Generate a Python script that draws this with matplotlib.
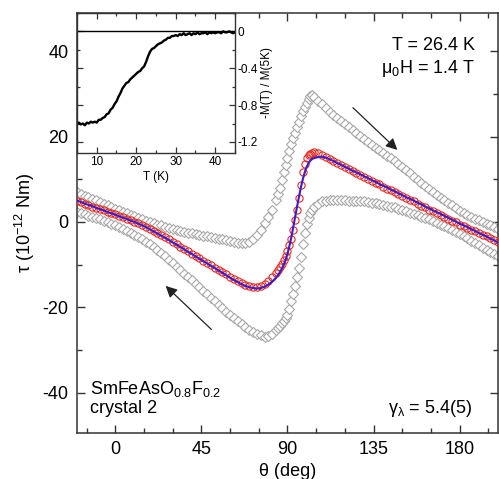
import numpy as np
import matplotlib
matplotlib.use("Agg")
import matplotlib.pyplot as plt
from matplotlib.ticker import MultipleLocator

plt.rcParams['font.family'] = ['Liberation Sans', 'DejaVu Sans']
plt.rcParams['mathtext.fontset'] = 'custom'
plt.rcParams['mathtext.rm'] = 'Liberation Sans'
plt.rcParams['mathtext.it'] = 'Liberation Sans'
plt.rcParams['mathtext.default'] = 'regular'
plt.rcParams['axes.unicode_minus'] = False

# angle grid: 2 deg steps, 1 deg steps across the switching region
theta = np.r_[np.arange(-20, 85, 2), np.arange(85, 104, 1), np.arange(104, 201, 2)]

# torque, branch coming from +30 peak (gray diamonds)
tau_up = [7.0, 6.6, 6.2, 5.8, 5.4, 5.1, 4.7, 4.3, 3.9, 3.5,
          3.1, 2.8, 2.4, 2.0, 1.7, 1.3, 1.0, 0.6, 0.3, 0.0,
          -0.3, -0.6, -0.8, -1.1, -1.4, -1.7, -1.9, -2.1, -2.3, -2.5,
          -2.7, -2.9, -3.0, -3.2, -3.3, -3.5, -3.7, -3.9, -4.1, -4.3,
          -4.5, -4.7, -4.9, -5.0, -5.0, -4.6, -4.0, -3.1, -1.8, -0.3,
          1.1, 2.9, 5.2,
          6.5, 8.0, 9.8, 11.6, 13.4, 15.0, 16.6, 18.2, 19.6, 20.9,
          22.2, 23.5, 24.8, 26.0, 27.0, 27.9, 28.8, 29.6, 29.7,
          29.2, 28.4, 27.6, 26.7, 25.9, 25.1, 24.4, 23.7, 23.0, 22.3,
          21.6, 20.9, 20.2, 19.4, 18.7, 18.0, 17.4, 16.8, 16.2, 15.5,
          14.9, 14.3, 13.6, 12.9, 12.2, 11.4, 10.6, 9.9, 9.1, 8.4,
          7.7, 7.0, 6.3, 5.7, 5.1, 4.5, 3.9, 3.3, 2.6, 2.0,
          1.6, 1.2, 0.8, 0.4, 0.0, -0.4, -0.8, -1.2, -1.6]

# torque, branch with the -27 dip (gray diamonds)
tau_down = [2.4, 2.1, 1.8, 1.5, 1.2, 0.9, 0.6, 0.3, 0.0, -0.4,
            -0.8, -1.2, -1.7, -2.1, -2.6, -3.1, -3.6, -4.0, -4.6, -5.2,
            -5.9, -6.6, -7.3, -8.1, -8.9, -9.7, -10.5, -11.3, -12.1, -12.9,
            -13.7, -14.5, -15.3, -16.1, -16.9, -17.8, -18.6, -19.4, -20.2, -21.1,
            -21.9, -22.6, -23.3, -24.0, -24.7, -25.3, -25.8, -26.3, -26.6, -26.9,
            -26.8, -26.2, -25.3,
            -24.8, -24.3, -23.8, -23.2, -22.6, -21.8, -20.4, -18.6, -16.9, -15.0,
            -13.0, -10.8, -8.2, -5.2, -2.6, -0.5, 1.0, 2.0, 2.8,
            3.5, 4.3, 4.8, 5.0, 5.2, 5.2, 5.2, 5.1, 5.1, 5.0,
            5.0, 4.9, 4.9, 4.8, 4.7, 4.5, 4.4, 4.2, 4.0, 3.8,
            3.6, 3.4, 3.1, 2.8, 2.5, 2.2, 1.9, 1.6, 1.2, 0.9,
            0.6, 0.2, -0.2, -0.6, -1.0, -1.4, -1.9, -2.3, -2.8, -3.3,
            -3.8, -4.4, -4.9, -5.5, -6.0, -6.6, -7.1, -7.6, -8.1]

# reversible torque (red circles)
tau_rev = [5.0, 4.6, 4.3, 4.0, 3.6, 3.3, 3.0, 2.7, 2.4, 2.1,
           1.8, 1.4, 1.1, 0.8, 0.4, 0.1, -0.3, -0.6, -1.1, -1.6,
           -2.1, -2.6, -3.1, -3.6, -4.1, -4.7, -5.2, -5.8, -6.3, -6.9,
           -7.4, -8.0, -8.5, -9.1, -9.6, -10.2, -10.7, -11.3, -11.8, -12.3,
           -12.8, -13.3, -13.8, -14.3, -14.7, -15.0, -15.2, -15.3, -15.1, -14.6,
           -13.9, -13.0, -11.9,
           -11.3, -10.6, -9.9, -9.0, -8.0, -6.9, -5.5, -3.9, -1.9, 0.4,
           2.9, 5.6, 8.6, 11.6, 13.6, 14.9, 15.6, 16.0, 16.2,
           16.3, 16.1, 15.7, 15.3, 14.8, 14.3, 13.8, 13.4, 12.9, 12.5,
           12.0, 11.5, 11.1, 10.6, 10.1, 9.7, 9.2, 8.8, 8.3, 7.8,
           7.4, 7.0, 6.6, 6.1, 5.7, 5.2, 4.8, 4.3, 3.8, 3.4,
           2.9, 2.5, 2.1, 1.6, 1.2, 0.8, 0.3, -0.1, -0.6, -1.0,
           -1.4, -1.8, -2.2, -2.6, -3.0, -3.4, -3.8, -4.2, -4.6]

# fit curve (blue line)
tau_fit = [5.0, 4.7, 4.3, 4.0, 3.7, 3.3, 3.0, 2.7, 2.3, 2.0,
           1.7, 1.3, 1.0, 0.7, 0.3, 0.0, -0.4, -0.8, -1.2, -1.7,
           -2.2, -2.7, -3.2, -3.7, -4.2, -4.8, -5.3, -5.9, -6.4, -7.0,
           -7.5, -8.1, -8.6, -9.2, -9.7, -10.3, -10.8, -11.4, -11.9, -12.5,
           -13.1, -13.6, -14.1, -14.6, -15.0, -15.3, -15.5, -15.6, -15.5, -15.2,
           -14.7, -14.0, -13.1,
           -12.5, -11.8, -11.0, -10.1, -8.9, -7.5, -5.6, -3.6, -1.2, 1.2,
           3.6, 5.9, 8.1, 10.0, 11.6, 12.9, 13.8, 14.4, 14.8,
           15.0, 15.2, 15.3, 15.1, 14.7, 14.3, 13.8, 13.4, 12.9, 12.5,
           12.0, 11.6, 11.2, 10.7, 10.3, 9.8, 9.4, 8.9, 8.5, 8.1,
           7.6, 7.2, 6.7, 6.3, 5.8, 5.4, 5.0, 4.5, 4.1, 3.6,
           3.2, 2.7, 2.3, 1.9, 1.4, 1.0, 0.5, 0.1, -0.4, -0.8,
           -1.2, -1.7, -2.1, -2.6, -3.0, -3.4, -3.9, -4.3, -4.8]

# inset: normalised magnetisation vs temperature
temp = np.arange(5.0, 45.01, 0.5)
mag = [-1.01, -0.99, -1.01, -1.00, -1.02, -0.99, -1.00, -0.98, -0.99, -0.98,
       -0.99, -0.96, -0.96, -0.94, -0.93, -0.90, -0.89, -0.85, -0.83, -0.79,
       -0.76, -0.71, -0.67, -0.62, -0.59, -0.56, -0.55, -0.52, -0.50, -0.48,
       -0.46, -0.44, -0.43, -0.40, -0.38, -0.33, -0.27, -0.22, -0.19, -0.18,
       -0.16, -0.14, -0.13, -0.12, -0.10, -0.09, -0.07, -0.07, -0.05, -0.05,
       -0.04, -0.05, -0.03, -0.04, -0.02, -0.04, -0.03, -0.02, -0.04, -0.02,
       -0.03, -0.01, -0.03, -0.02, -0.02, -0.01, -0.03, -0.01, -0.02, -0.01,
       -0.02, -0.01, -0.01, -0.02, 0.00, -0.01, -0.01, 0.00, -0.01, -0.02,
       -0.01]

x_ticks = [0, 45, 90, 135, 180]
y_ticks = [-40, -20, 0, 20, 40]
inset_yticks = [0, -0.4, -0.8, -1.2]
inset_ylabels = ['0', '-0.4', '-0.8', '-1.2']

spine_col = '#333333'

fig = plt.figure(figsize=(4.99, 4.79), dpi=100)
ax = fig.add_axes([0.1543, 0.096, 0.8437, 0.8768])

ax.plot(theta, tau_up, ls='none', marker='D', ms=5.5, mfc='white',
        mec='#a8a8a8', mew=0.8, zorder=2)
ax.plot(theta, tau_down, ls='none', marker='D', ms=5.5, mfc='white',
        mec='#a8a8a8', mew=0.8, zorder=2)
ax.plot(theta, tau_rev, ls='none', marker='o', ms=5.2, mfc='none',
        mec='#e62a1e', mew=0.8, zorder=3)
ax.plot(theta, tau_fit, color='#3a1ccc', lw=1.5, zorder=4)

# sweep direction arrows
arrow = dict(arrowstyle='-|>', color='#222222', lw=0.9, mutation_scale=17,
             shrinkA=0, shrinkB=0)
ax.annotate('', xy=(147.4, 16.9), xytext=(124.2, 26.8), arrowprops=arrow)
ax.annotate('', xy=(26.3, -15.0), xytext=(50.2, -25.2), arrowprops=arrow)

ax.set_xlim(-20, 200)
ax.set_ylim(-49.5, 49)
ax.set_xticks(x_ticks)
ax.set_yticks(y_ticks)
ax.xaxis.set_minor_locator(MultipleLocator(15))
ax.yaxis.set_minor_locator(MultipleLocator(10))
ax.tick_params(which='both', direction='in', top=True, right=True,
               labelsize=13, color=spine_col, width=1)
ax.tick_params(which='major', length=6, pad=6)
ax.tick_params(which='minor', length=3.5)
for s in ax.spines.values():
    s.set_color(spine_col)
    s.set_linewidth(1.1)

ax.set_xlabel('θ (deg)', fontsize=13, labelpad=3)
ax.set_ylabel('τ (10$^{-12}$ Nm)', fontsize=13, labelpad=4)

ax.text(187.8, 40.4, 'T = 26.4 K', fontsize=13, ha='right', va='baseline')
ax.text(187.8, 34.9, '$\\mu_0$H = 1.4 T', fontsize=13, ha='right', va='baseline')
ax.text(-13.3, -40.4, 'SmFeAsO$_{0.8}$F$_{0.2}$', fontsize=13, ha='left', va='baseline')
ax.text(-13.3, -44.8, 'crystal 2', fontsize=13, ha='left', va='baseline')
ax.text(186.8, -44.9, '$\\gamma_\\lambda$ = 5.4(5)', fontsize=13, ha='right', va='baseline')

# inset
ins = fig.add_axes([0.1543, 0.6806, 0.3166, 0.2923])
ins.plot(temp, mag, color='black', lw=1.7)
ins.axhline(0, color='black', lw=1.0)
ins.set_xlim(5, 45)
ins.set_ylim(-1.32, 0.2)
ins.set_xticks([10, 20, 30, 40])
ins.xaxis.set_minor_locator(MultipleLocator(5))
ins.set_yticks(inset_yticks)
ins.set_yticklabels(inset_ylabels)
ins.yaxis.set_minor_locator(MultipleLocator(0.2))
ins.tick_params(which='both', direction='in', top=True, bottom=True,
                left=True, right=True, labelleft=False, labelright=True,
                labelsize=8.5, color=spine_col, width=0.9, pad=2)
ins.tick_params(which='major', length=4)
ins.tick_params(which='minor', length=2.5)
ins.yaxis.set_label_position('right')
ins.set_ylabel('-M(T) / M(5K)', fontsize=8.5, labelpad=2)
ins.set_xlabel('T (K)', fontsize=8.5, labelpad=2)
for s in ins.spines.values():
    s.set_color(spine_col)
    s.set_linewidth(1.0)

fig.savefig('out.png', dpi=100)
